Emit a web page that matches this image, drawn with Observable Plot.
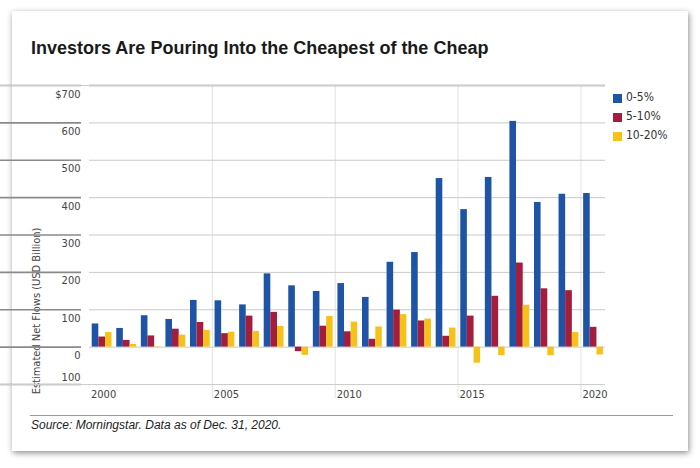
<!DOCTYPE html>
<html>
<head>
<meta charset="utf-8">
<script src="https://cdn.jsdelivr.net/npm/d3@7"></script>
<script src="https://cdn.jsdelivr.net/npm/@observablehq/plot@0.6"></script>
<style>
  html, body { margin: 0; padding: 0; background: #fff; }
  body { width: 700px; height: 468px; position: relative; overflow: hidden; font-family: "Liberation Sans", Arial, sans-serif; }
  #card { position: absolute; left: 12px; top: 11px; width: 676px; height: 440px; background: #fff;
          box-shadow: 1px 2px 6px rgba(0,0,0,0.45); }
  #title { position: absolute; left: 31px; top: 38px; font: bold 18px "Liberation Sans", Arial, sans-serif; color: #1a1a1a; white-space: nowrap; }
  #chart { position: absolute; left: 0; top: 70px; }
  #ylabel { position: absolute; left: 36px; top: 311px; transform: translate(-50%, -50%) rotate(-90deg);
            font-family: "Liberation Sans Narrow", "DejaVu Sans", sans-serif; font-size: 11px; font-stretch: condensed; color: #444; white-space: nowrap; }
  #srcline { position: absolute; left: 30px; top: 415px; width: 643px; height: 0; border-top: 1.5px solid #999; }
  #source { position: absolute; left: 31px; top: 418px; font: italic 12px "Liberation Sans", Arial, sans-serif; color: #222; white-space: nowrap; }
  .legitem { position: absolute; left: 613px; height: 10px; font-family: "Liberation Sans Narrow", "DejaVu Sans", sans-serif; font-size: 12px; font-stretch: condensed; color: #333; white-space: nowrap; }
  .legitem span.sw { position: absolute; left: 0; top: 0.5px; width: 8.5px; height: 9px; }
  .legitem span.lb { position: absolute; left: 13px; top: -3px; line-height: 15px; }
</style>
</head>
<body>
<div id="card"></div>
<div id="title">Investors Are Pouring Into the Cheapest of the Cheap</div>
<div id="ylabel">Estimated Net Flows (USD Billion)</div>
<div id="legend"></div>
<div id="srcline"></div>
<div id="source">Source: Morningstar. Data as of Dec. 31, 2020.</div>
<div id="chart"></div>
<script>
// ---- data ----
const years = [2000,2001,2002,2003,2004,2005,2006,2007,2008,2009,2010,2011,2012,2013,2014,2015,2016,2017,2018,2019,2020];
const flows0to5 = [62,50,84,74,125,124,113,196,164,149,170,133,227,253,451,368,454,604,387,409,411];
const flows5to10 = [27,18,30,48,66,36,83,93,-12,56,41,21,99,70,29,83,136,225,156,151,53];
const flows10to20 = [39,7,1,32,45,40,42,55,-22,82,67,54,87,75,51,-43,-23,112,-23,39,-21];
const seriesNames = ["0-5%", "5-10%", "10-20%"];
const seriesColors = ["#1f53a5", "#a51d3c", "#f6c21a"];
const yTicks = [700,600,500,400,300,200,100,0,-100];
const yTickLabels = ["$700","600","500","400","300","200","100","0","100"];
const xTicks = [2000,2005,2010,2015,2020];
const xGrid = [2005,2010,2015,2020];

const rows = years.map((year, i) => ({year, a: flows0to5[i], b: flows5to10[i], c: flows10to20[i]}));
const yLabelRows = yTicks.map((v, i) => ({v, label: yTickLabels[i]}));
const yDomain = [d3.min(yTicks), d3.max(yTicks)];
const xStart = years[0];
const xEnd = years[years.length - 1] + 1;

const narrow = '"Liberation Sans Narrow", "DejaVu Sans", sans-serif';
const band = (605 - 89) / (xEnd - xStart); // px per year (for insets)

const chart = Plot.plot({
  width: 700,
  height: 340,
  marginTop: 15,
  marginBottom: 26,
  marginLeft: 47,
  marginRight: 32,
  x: {type: "linear", domain: [xStart, xEnd], range: [89, 605], axis: null},
  y: {domain: yDomain, axis: null},
  style: {fontFamily: narrow, fontStretch: "condensed", background: "transparent", overflow: "visible"},
  marks: [
    // vertical gridlines
    Plot.ruleX(xGrid, {x: d => d, stroke: "#e2e2e2", strokeWidth: 1, insetBottom: -14}),
    // horizontal gridlines across the plot area
    Plot.ruleY(yTicks.filter(v => v !== yDomain[1]), {y: d => d, x1: () => xStart, x2: () => xEnd, stroke: "#c9c9c9", strokeWidth: 1}),
    Plot.ruleY(yTicks.filter(v => v === yDomain[1]), {y: d => d, x1: () => xStart, x2: () => xEnd, stroke: "#8a8a8a", strokeWidth: 1.6}),
    // short tick segments at the left, ending before the plot area
    Plot.ruleY(yTicks, {y: d => d, x2: () => xStart, insetRight: 8, stroke: "#8a8a8a", strokeWidth: 1.6}),
    // legend separator lines at the right
    Plot.ruleY(yDomain, {y: d => d, x1: () => xEnd, insetLeft: 8, stroke: "#cccccc", strokeWidth: 1}),
    // tick labels
    Plot.text(yLabelRows.filter(d => d.v !== yDomain[0]), {y: "v", x: () => xStart, text: "label", textAnchor: "end", dx: -9, dy: 8.5, fontSize: 11, fill: "#444", lineAnchor: "middle"}),
    Plot.text(yLabelRows.filter(d => d.v === yDomain[0]), {y: "v", x: () => xStart, text: "label", textAnchor: "end", dx: -9, dy: -7, fontSize: 11, fill: "#444", lineAnchor: "middle"}),
    Plot.text(xTicks, {x: d => d, text: d => String(d), frameAnchor: "bottom", textAnchor: "start", dx: 1.5, dy: 10, fontSize: 11, fill: "#444", lineAnchor: "middle"}),
    // bars
    Plot.rectY(rows, {x: "year", interval: 1, y: "a", fill: seriesColors[0], insetLeft: 2.7, insetRight: band - 9.3}),
    Plot.rectY(rows, {x: "year", interval: 1, y: "b", fill: seriesColors[1], insetLeft: 9.3, insetRight: band - 16}),
    Plot.rectY(rows, {x: "year", interval: 1, y: "c", fill: seriesColors[2], insetLeft: 16, insetRight: band - 22.5})
  ]
});
document.getElementById("chart").appendChild(chart);

// legend
const legend = document.getElementById("legend");
seriesNames.forEach((name, i) => {
  const item = document.createElement("div");
  item.className = "legitem";
  item.style.top = (93 + i * 19) + "px";
  item.innerHTML = `<span class="sw" style="background:${seriesColors[i]}"></span><span class="lb">${name}</span>`;
  legend.appendChild(item);
});
</script>
</body>
</html>
